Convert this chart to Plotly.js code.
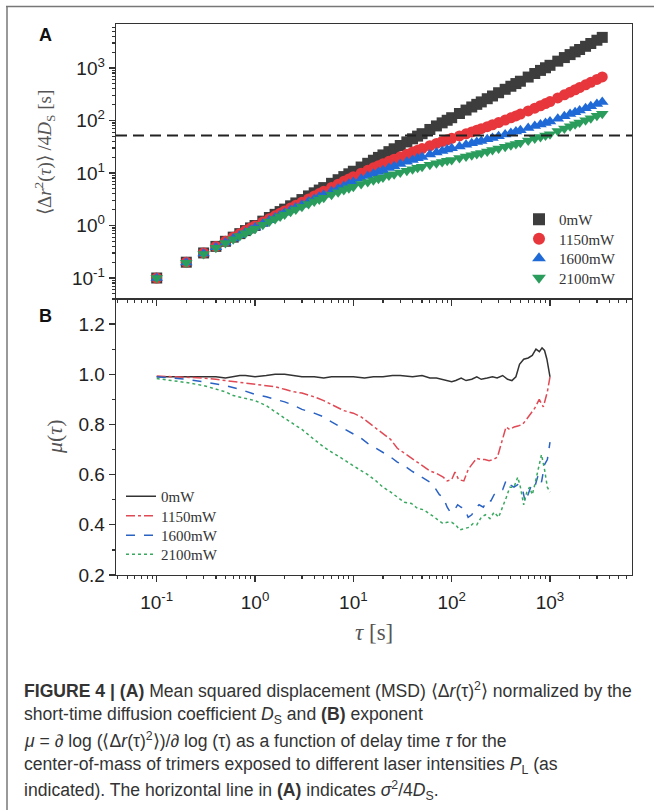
<!DOCTYPE html>
<html>
<head>
<meta charset="utf-8">
<script src="https://cdn.plot.ly/plotly-3.0.1.min.js"></script>
<style>
html,body{margin:0;padding:0;background:#fff;}
#chart{width:654px;height:810px;}
</style>
</head>
<body>
<div id="chart"></div>
<script>
// ---------------- DATA ----------------
const seriesNames = ['0mW', '1150mW', '1600mW', '2100mW'];

// Panel A: delay time tau [s]
const tau = [0.1,0.2,0.3,0.4,0.5,0.6,0.7,0.8,0.9,1,
  1.2,1.4,1.6,1.8,2,2.3,2.6,3,3.5,4,4.5,5,6,7,8,9,10,
  12,14,16,18,20,23,26,30,35,40,45,50,60,70,80,90,100,
  120,140,160,180,200,230,260,300,350,400,450,500,600,700,800,900,1000,
  1200,1400,1600,1800,2000,2300,2600,3000,3400];

// Panel A: MSD / 4D_S [s]
const msd0 = [0.1,0.2,0.3,0.4,0.5,0.6,0.7,0.8,0.9,1.0,
  1.21,1.42,1.63,1.84,2.05,2.37,2.69,3.12,3.66,4.19,4.73,5.27,6.36,7.45,8.54,9.65,10.8,
  13.0,15.3,17.5,19.8,22.1,25.5,28.9,33.4,39.1,44.8,50.4,56.1,67.5,78.8,90.2,101,113,
  136,158,181,203,226,260,293,338,393,449,505,560,672,786,900,1010,1125,
  1350,1580,1800,2030,2250,2590,2930,3380,3830];
const msd1150 = [0.1,0.2,0.3,0.4,0.499,0.598,0.697,0.795,0.893,0.978,
  1.163,1.348,1.531,1.712,1.894,2.162,2.427,2.775,3.209,3.636,4.058,4.48,5.305,6.12,6.93,7.72,8.51,
  9.92,11.26,12.54,13.77,14.96,16.67,18.29,20.33,22.75,25.01,27.16,29.22,33.02,36.53,39.8,42.83,45.7,
  50.8,55.7,60.5,65.2,69.7,76.4,83.0,91.5,102,112.2,122.4,132.4,152.1,171.6,190.9,210,229,
  269,308.5,347,385,423,479,534,605.5,676];
const msd1600 = [0.1,0.198,0.293,0.386,0.477,0.566,0.654,0.741,0.827,0.912,
  1.084,1.254,1.419,1.58,1.741,1.975,2.202,2.497,2.855,3.202,3.536,3.864,4.493,5.093,5.668,6.221,6.761,
  7.776,8.728,9.623,10.47,11.27,12.42,13.48,14.8,16.33,17.74,19.04,20.27,22.49,24.5,26.32,27.97,29.51,
  32.06,34.44,36.67,38.79,40.82,43.73,46.46,49.94,54.04,57.89,61.59,65.15,71.84,78.18,84.21,89.92,95.5,
  108.5,120.9,132.7,144.1,155.1,171.2,186.4,206.1,224.8];
const msd2100 = [0.1,0.196,0.288,0.377,0.464,0.548,0.631,0.712,0.792,0.871,
  1.031,1.186,1.337,1.481,1.623,1.828,2.023,2.273,2.57,2.852,3.12,3.379,3.86,4.309,4.727,5.123,5.495,
  6.142,6.733,7.276,7.78,8.253,8.913,9.515,10.25,11.09,11.84,12.53,13.18,14.31,15.32,16.23,17.04,17.78,
  19.21,20.55,21.81,23.0,24.14,25.77,27.32,29.26,31.57,33.75,35.82,37.83,41.61,45.17,48.58,51.8,54.95,
  62.8,70.35,77.6,84.6,91.4,101.3,110.8,123.1,134.8];

// horizontal reference level sigma^2/4D_S
const sigmaLevel = 52;

// Panel B: exponent mu(tau)
const tauMu0 = [0.1,0.15,0.2,0.3,0.4,0.5,0.6,0.7,0.8,1,1.3,1.6,2,2.5,3,4,5,6,8,10,13,16,20,25,30,40,50,60,70,80,90,100,110,125,140,160,180,200,230,260,290,330,370,410,450,490,540,600,660,720,780,830,880,930,1000];
const mu0 = [0.99,0.99,0.99,0.99,0.99,0.985,0.99,0.995,0.995,0.99,0.995,1.0,1.0,0.995,0.99,0.99,0.985,0.99,0.99,0.99,0.985,0.99,0.99,0.995,0.995,0.99,0.995,0.985,0.985,0.98,0.975,0.97,0.975,0.985,0.975,0.98,0.99,0.98,0.985,0.99,0.985,0.995,0.98,0.975,0.99,1.04,1.06,1.065,1.075,1.1,1.09,1.105,1.095,1.06,0.99];

const tauMu1150 = [0.1,0.15,0.2,0.3,0.4,0.5,0.7,1,1.3,1.6,2,2.5,3,4,5,6,7,8,10,12,14,17,20,24,28,33,39,45,52,60,70,82,90,100,108,118,133,147,160,179,200,218,240,265,292,323,357,390,432,480,525,576,640,700,777,855,940,1000];
const mu1150 = [0.993,0.99,0.99,0.985,0.98,0.975,0.97,0.96,0.955,0.95,0.94,0.93,0.925,0.91,0.895,0.88,0.865,0.855,0.845,0.83,0.81,0.785,0.765,0.74,0.705,0.685,0.665,0.65,0.63,0.615,0.605,0.59,0.575,0.58,0.61,0.58,0.575,0.62,0.64,0.665,0.66,0.66,0.655,0.66,0.67,0.73,0.79,0.78,0.79,0.795,0.80,0.82,0.845,0.865,0.90,0.87,0.93,0.99];

const tauMu1600 = [0.1,0.15,0.2,0.3,0.4,0.5,0.7,1,1.3,1.6,2,2.5,3,4,5,6,7,8,10,12,14,17,20,24,28,33,39,45,52,60,67,75,82,90,97,105,115,125,135,147,160,175,190,210,230,250,270,300,330,360,390,430,470,520,560,600,650,700,760,820,880,940,1000];
const mu1600 = [0.99,0.985,0.98,0.97,0.96,0.955,0.94,0.92,0.91,0.9,0.89,0.875,0.86,0.845,0.83,0.81,0.795,0.785,0.76,0.745,0.725,0.705,0.69,0.67,0.65,0.635,0.615,0.60,0.585,0.57,0.55,0.52,0.51,0.47,0.45,0.455,0.48,0.47,0.465,0.43,0.44,0.465,0.48,0.47,0.50,0.495,0.52,0.535,0.54,0.58,0.56,0.55,0.56,0.55,0.49,0.52,0.56,0.55,0.6,0.57,0.64,0.66,0.73];

const tauMu2100 = [0.1,0.15,0.2,0.3,0.4,0.5,0.6,0.8,1,1.3,1.6,2,2.5,3,4,5,6,7,8,10,12,14,17,20,24,28,33,39,45,52,60,67,75,82,90,100,110,120,135,150,165,180,200,220,245,270,300,330,360,390,430,470,500,540,580,620,660,700,760,820,880,940,1000];
const mu2100 = [0.983,0.975,0.967,0.955,0.94,0.93,0.915,0.905,0.895,0.875,0.85,0.825,0.80,0.78,0.74,0.71,0.69,0.675,0.66,0.635,0.615,0.60,0.575,0.55,0.53,0.51,0.49,0.485,0.465,0.46,0.445,0.43,0.415,0.405,0.41,0.41,0.40,0.38,0.385,0.39,0.405,0.40,0.43,0.44,0.425,0.45,0.43,0.47,0.51,0.55,0.55,0.59,0.55,0.48,0.53,0.55,0.52,0.56,0.62,0.68,0.62,0.55,0.53];

// tick labels
const logTickVals = [0.1, 1, 10, 100, 1000];
const logTickText = ['10<sup>-1</sup>', '10<sup>0</sup>', '10<sup>1</sup>', '10<sup>2</sup>', '10<sup>3</sup>'];
const muTickVals = [0.2, 0.4, 0.6, 0.8, 1.0, 1.2];
const muTickText = ['0.2', '0.4', '0.6', '0.8', '1.0', '1.2'];

// ---------------- STYLE / LAYOUT ----------------
const W = 654, H = 810;
const px = x => x / W;
const py = y => 1 - y / H;

const colorsA = ['#3d3d3d', '#e8373c', '#1f6ad6', '#2a9d5c'];
const symbolsA = ['square', 'circle', 'triangle-up', 'triangle-down'];
const sizesA = [11, 11, 11, 11];
const colorsB = ['#333333', '#e04a55', '#2a62c4', '#3aa860'];
const dashesB = ['solid', 'dashdot', 'dash', 'dot'];

// legend entry positions (px from top of the page, centre of each entry)
const legendA_y = [221, 240.5, 260, 279.5];
const legendB_y = [498, 517.5, 537, 556];

function logMinor(lo, hi) {
  const v = [];
  for (let d = lo; d <= hi; d++) for (let k = 2; k <= 9; k++) v.push(k * Math.pow(10, d));
  return v;
}
const minorLog = logMinor(-2, 3);

const msdSeries = [msd0, msd1150, msd1600, msd2100];
const tauB = [tauMu0, tauMu1150, tauMu1600, tauMu2100];
const muB = [mu0, mu1150, mu1600, mu2100];

const legendFont = {family: 'Liberation Serif, serif', size: 15, color: '#333'};
const traces = [];
const layoutLegends = {};
for (let i = 0; i < 4; i++) {
  const lid = i === 0 ? 'legend' : 'legend' + (i + 1);
  traces.push({
    type: 'scatter', mode: 'markers', x: tau, y: msdSeries[i], name: seriesNames[i],
    xaxis: 'x', yaxis: 'y', legend: lid,
    marker: {symbol: symbolsA[i], size: sizesA[i], color: colorsA[i], line: {width: 0}}
  });
  layoutLegends[lid] = {x: px(519), y: py(legendA_y[i] - 18), xanchor: 'left', yanchor: 'top',
    bgcolor: 'rgba(0,0,0,0)', borderwidth: 0, font: legendFont, itemsizing: 'constant'};
}
for (let i = 0; i < 4; i++) {
  const lid = 'legend' + (i + 5);
  traces.push({
    type: 'scatter', mode: 'lines', x: tauB[i], y: muB[i], name: seriesNames[i],
    xaxis: 'x2', yaxis: 'y2', legend: lid,
    line: {color: colorsB[i], width: 1.5, dash: dashesB[i]}
  });
  layoutLegends[lid] = {x: px(121), y: py(legendB_y[i] - 18), xanchor: 'left', yanchor: 'top',
    bgcolor: 'rgba(0,0,0,0)', borderwidth: 0, font: legendFont};
}

const tickFont = {family: 'Liberation Sans, Arial, sans-serif', size: 19, color: '#222'};
const base = {showline: true, linecolor: '#333', linewidth: 1.3, mirror: true,
  showgrid: false, zeroline: false, ticks: 'outside', ticklen: 6, tickwidth: 1.2, tickcolor: '#333'};
const xRange = [-1.414, 3.834];
const xDomain = [px(116), px(632)];

const layout = Object.assign({
  width: W, height: H,
  margin: {l: 0, r: 0, t: 0, b: 0},
  paper_bgcolor: '#fff', plot_bgcolor: '#fff',
  showlegend: true,
  xaxis: Object.assign({}, base, {type: 'log', domain: xDomain, range: xRange, anchor: 'y',
    tickmode: 'array', tickvals: logTickVals, ticktext: logTickText, showticklabels: false,
    minor: {tickmode: 'array', tickvals: minorLog, ticks: 'outside', ticklen: 3, tickcolor: '#333'}}),
  xaxis2: Object.assign({}, base, {type: 'log', domain: xDomain, range: xRange, anchor: 'y2',
    tickmode: 'array', tickvals: logTickVals, ticktext: logTickText, tickfont: tickFont, ticklabelstandoff: 4,
    minor: {tickmode: 'array', tickvals: minorLog, ticks: 'outside', ticklen: 3, tickcolor: '#333'}}),
  xaxis3: {type: 'log', overlaying: 'x', anchor: 'y', side: 'top', range: xRange,
    showline: false, showgrid: false, zeroline: false, showticklabels: false,
    ticks: 'inside', ticklen: 6, tickwidth: 1.2, tickcolor: '#333', tickmode: 'array', tickvals: logTickVals,
    minor: {tickmode: 'array', tickvals: minorLog, ticks: 'inside', ticklen: 3, tickcolor: '#333'}},
  yaxis: Object.assign({}, base, {type: 'log', domain: [py(299), py(24)], range: [-1.4, 3.838], anchor: 'x',
    tickmode: 'array', tickvals: logTickVals, ticktext: logTickText, tickfont: tickFont,
    minor: {tickmode: 'array', tickvals: minorLog, ticks: 'outside', ticklen: 3, tickcolor: '#333'}}),
  yaxis3: {type: 'log', overlaying: 'y', anchor: 'x', side: 'right', range: [-1.4, 3.838],
    showline: false, showgrid: false, zeroline: false, showticklabels: false,
    ticks: 'inside', ticklen: 6, tickwidth: 1.2, tickcolor: '#333', tickmode: 'array', tickvals: logTickVals,
    minor: {tickmode: 'array', tickvals: minorLog, ticks: 'inside', ticklen: 3, tickcolor: '#333'}},
  yaxis2: Object.assign({}, base, {domain: [py(575), py(299)], range: [0.2, 1.3], anchor: 'x2',
    tickmode: 'array', tickvals: muTickVals, ticktext: muTickText, tickfont: tickFont,
    minor: {tickmode: 'linear', tick0: 0.1, dtick: 0.1, ticks: 'outside', ticklen: 3, tickcolor: '#333'}}),
  yaxis4: {overlaying: 'y2', anchor: 'x2', side: 'right', range: [0.2, 1.3],
    showline: false, showgrid: false, zeroline: false, showticklabels: false,
    ticks: 'inside', ticklen: 6, tickwidth: 1.2, tickcolor: '#333', tickmode: 'array', tickvals: muTickVals,
    minor: {tickmode: 'linear', tick0: 0.1, dtick: 0.1, ticks: 'inside', ticklen: 3, tickcolor: '#333'}},
  shapes: [
    {type: 'line', xref: 'x domain', x0: 0, x1: 1, yref: 'y', y0: sigmaLevel, y1: sigmaLevel,
      line: {color: '#222', width: 2, dash: '11px,6px'}},
    {type: 'line', xref: 'paper', yref: 'paper', x0: px(6), x1: 1, y0: py(6.5), y1: py(6.5),
      line: {color: '#777', width: 1.5}},
    {type: 'line', xref: 'paper', yref: 'paper', x0: px(7), x1: px(7), y0: py(6), y1: 0,
      line: {color: '#777', width: 1.5}}
  ],
  annotations: []
}, layoutLegends);

const ann = layout.annotations;
// panel letters
ann.push({text: '<b>A</b>', xref: 'paper', yref: 'paper', x: px(45), y: py(35), xanchor: 'center', yanchor: 'middle',
  showarrow: false, font: {family: 'Liberation Sans, Arial, sans-serif', size: 18, color: '#111'}});
ann.push({text: '<b>B</b>', xref: 'paper', yref: 'paper', x: px(45), y: py(316), xanchor: 'center', yanchor: 'middle',
  showarrow: false, font: {family: 'Liberation Sans, Arial, sans-serif', size: 18, color: '#111'}});
// axis titles
ann.push({text: '⟨Δ<i>r</i><sup>2</sup>(<i>τ</i>)⟩ /4<i>D</i><sub>S</sub> [s]', xref: 'paper', yref: 'paper',
  x: px(44), y: py(152), xanchor: 'center', yanchor: 'middle', textangle: -90, showarrow: false,
  font: {family: 'Liberation Serif, serif', size: 19, color: '#555'}});
ann.push({text: '<i>μ</i>(<i>τ</i>)', xref: 'paper', yref: 'paper',
  x: px(54), y: py(437), xanchor: 'center', yanchor: 'middle', textangle: -90, showarrow: false,
  font: {family: 'Liberation Serif, serif', size: 22, color: '#555'}});
ann.push({text: '<i>τ</i> [s]', xref: 'paper', yref: 'paper',
  x: px(374), y: py(632), xanchor: 'center', yanchor: 'middle', showarrow: false,
  font: {family: 'Liberation Serif, serif', size: 23, color: '#555'}});

// caption
const captionLines = [
  '<b>FIGURE 4 | (A)</b> Mean squared displacement (MSD) ⟨Δ<i>r</i>(τ)<sup>2</sup>⟩ normalized by the',
  'short-time diffusion coefficient <i>D</i><sub>S</sub> and <b>(B)</b> exponent',
  '<i>μ</i> = ∂ log (⟨Δ<i>r</i>(τ)<sup>2</sup>⟩)/∂ log (τ) as a function of delay time <i>τ</i> for the',
  'center-of-mass of trimers exposed to different laser intensities <i>P</i><sub>L</sub> (as',
  'indicated). The horizontal line in <b>(A)</b> indicates <i>σ</i><sup>2</sup>/4<i>D</i><sub>S</sub>.'
];
const captionY = [690, 715, 740, 765, 790];
captionLines.forEach((t, i) => {
  ann.push({text: t, xref: 'paper', yref: 'paper', x: px(22), y: py(captionY[i]), xanchor: 'left', yanchor: 'middle',
    align: 'left', showarrow: false, font: {family: 'Liberation Sans, Arial, sans-serif', size: 17.6, color: '#333'}});
});

Plotly.newPlot('chart', traces, layout, {displayModeBar: false, staticPlot: true});
</script>
</body>
</html>
